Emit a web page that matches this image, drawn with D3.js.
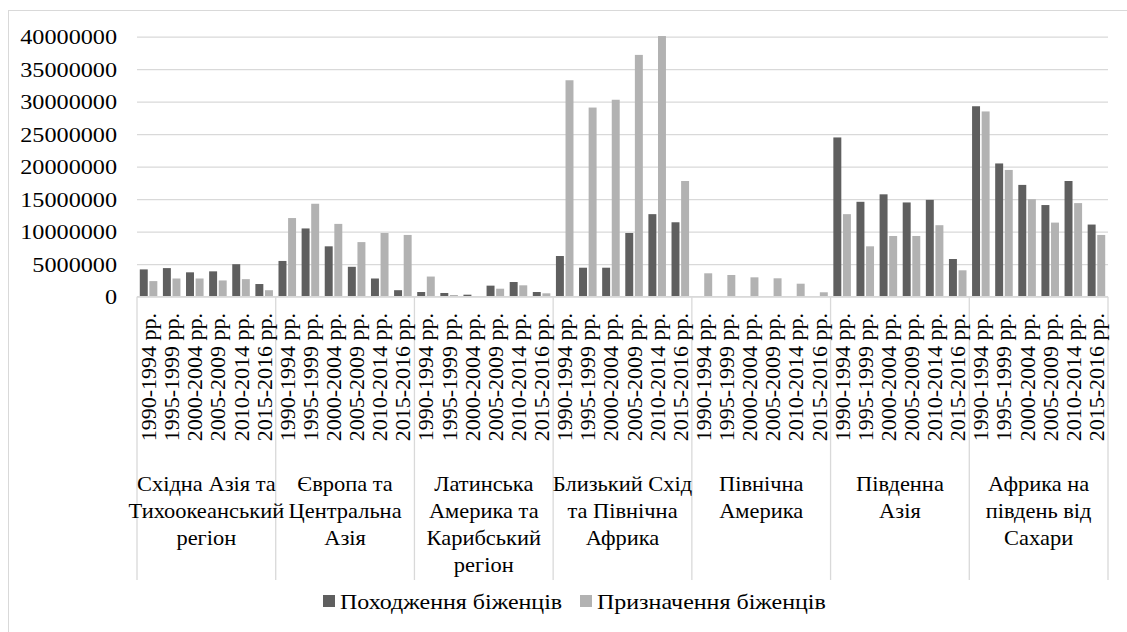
<!DOCTYPE html>
<html>
<head>
<meta charset="utf-8">
<script src="https://cdn.jsdelivr.net/npm/d3@7"></script>
<style>
  html, body { margin: 0; padding: 0; background: #fff; }
  svg { display: block; }
</style>
</head>
<body>
<svg id="chart" width="1127" height="632"></svg>
<script>
// ---- data ----
const regions = [
  "Східна Азія та Тихоокеанський регіон",
  "Європа та Центральна Азія",
  "Латинська Америка та Карибський регіон",
  "Близький Схід та Північна Африка",
  "Північна Америка",
  "Південна Азія",
  "Африка на південь від Сахари"
];
const regionLines = [
  ["Східна Азія та", "Тихоокеанський", "регіон"],
  ["Європа та", "Центральна", "Азія"],
  ["Латинська", "Америка та", "Карибський", "регіон"],
  ["Близький Схід", "та Північна", "Африка"],
  ["Північна", "Америка"],
  ["Південна", "Азія"],
  ["Африка на", "південь від", "Сахари"]
];
const periods = ["1990-1994 рр.", "1995-1999 рр.", "2000-2004 рр.", "2005-2009 рр.", "2010-2014 рр.", "2015-2016 рр."];
const seriesNames = ["Походження біженців", "Призначення біженців"];
// origin of refugees, per region, per period
const origin = [
  4200000, 4400000, 3750000, 3900000, 5000000, 1950000,
  5500000, 10500000, 7750000, 4600000, 2800000, 1000000,
  720000, 570000, 310000, 1700000, 2260000, 720000,
  6260000, 4460000, 4460000, 9800000, 12700000, 11450000,
  0, 0, 0, 0, 0, 0,
  24500000, 14600000, 15750000, 14500000, 14900000, 5800000,
  29300000, 20500000, 17200000, 14100000, 17800000, 11100000
];
// destination of refugees, per region, per period
const destination = [
  2400000, 2800000, 2800000, 2500000, 2700000, 1000000,
  12100000, 14300000, 11200000, 8400000, 9800000, 9500000,
  3100000, 260000, 100000, 1230000, 1750000, 520000,
  33300000, 29100000, 30300000, 37200000, 40100000, 17800000,
  3600000, 3340000, 2980000, 2830000, 2000000, 680000,
  12700000, 7750000, 9340000, 9340000, 11000000, 4060000,
  28500000, 19500000, 15000000, 11400000, 14400000, 9500000
];
const yTicks = [0, 5000000, 10000000, 15000000, 20000000, 25000000, 30000000, 35000000, 40000000];

// ---- layout ----
const FONT = '"Liberation Serif"';
const colors = ["#5f5f5f", "#b2b2b2"];
const gridColor = "#d9d9d9";
const fontSize = 22;
const plotLeft = 137, plotRight = 1108, plotTop = 36.7, plotBottom = 296.7;
const labelBottom = 580;

const svg = d3.select("#chart");
function styleText(sel) {
  return sel.style("font-family", FONT).style("font-size", fontSize + "px").style("fill", "#000");
}

// frame
svg.append("rect")
  .attr("x", 8.5).attr("y", 10.5)
  .attr("width", 1140).attr("height", 640)
  .attr("fill", "none").attr("stroke", gridColor).attr("stroke-width", 1);

const x0 = d3.scaleBand().domain(regions).range([plotLeft, plotRight]).padding(0);
const x1 = d3.scaleBand().domain(periods).range([0, x0.bandwidth()]).padding(0);
const xs = d3.scaleBand().domain(seriesNames).range([0, x1.bandwidth()]).paddingInner(0.17).paddingOuter(0.29);
const y = d3.scaleLinear().domain([0, 40000000]).range([plotBottom, plotTop]);

// y axis with gridlines
const yAxis = d3.axisLeft(y).tickValues(yTicks).tickFormat(d3.format("d"))
  .tickSize(-(plotRight - plotLeft)).tickPadding(20);
const gy = svg.append("g").attr("transform", `translate(${plotLeft},0)`).call(yAxis);
gy.select(".domain").remove();
gy.selectAll(".tick line").attr("stroke", gridColor).attr("stroke-width", 1.3);
styleText(gy.selectAll(".tick text"))
  .attr("x", 0)
  .attr("transform", "translate(-20,0) scale(1.1,1)");

// bars
const rows = [];
regions.forEach((r, i) => {
  periods.forEach((p, j) => {
    const k = i * periods.length + j;
    rows.push({ region: r, period: p, series: seriesNames[0], value: origin[k], c: 0 });
    rows.push({ region: r, period: p, series: seriesNames[1], value: destination[k], c: 1 });
  });
});
svg.append("g").selectAll("rect").data(rows).join("rect")
  .attr("x", d => x0(d.region) + x1(d.period) + xs(d.series))
  .attr("width", xs.bandwidth())
  .attr("y", d => y(d.value))
  .attr("height", d => y(0) - y(d.value))
  .attr("fill", d => colors[d.c]);

// x axis line
svg.append("line")
  .attr("x1", plotLeft).attr("x2", plotRight)
  .attr("y1", plotBottom).attr("y2", plotBottom)
  .attr("stroke", gridColor).attr("stroke-width", 1.3);

// group separators
const bounds = regions.map(r => x0(r)).concat([plotRight]);
svg.append("g").selectAll("line").data(bounds).join("line")
  .attr("x1", d => d).attr("x2", d => d)
  .attr("y1", plotBottom).attr("y2", labelBottom)
  .attr("stroke", gridColor).attr("stroke-width", 1.3);

// period labels (rotated)
const periodRows = [];
regions.forEach(r => periods.forEach(p => periodRows.push({ region: r, period: p })));
styleText(svg.append("g").selectAll("text").data(periodRows).join("text"))
  .attr("transform", d => {
    const cx = x0(d.region) + x1(d.period) + x1.bandwidth() / 2;
    return `translate(${cx + 7.5},313) rotate(-90)`;
  })
  .attr("text-anchor", "end")
  .text(d => d.period);

// region labels
const gl = styleText(svg.append("g").selectAll("text").data(regions).join("text"))
  .attr("transform", d => `translate(${x0(d) + x0.bandwidth() / 2},491) scale(1.02,1)`)
  .attr("text-anchor", "middle");
gl.selectAll("tspan").data((d, i) => regionLines[i])
  .join("tspan")
  .attr("x", 0)
  .attr("dy", (d, i) => i === 0 ? 0 : 27)
  .text(d => d);

// legend
const legendX = [323, 580];
const lg = svg.append("g").selectAll("g").data(seriesNames).join("g")
  .attr("transform", (d, i) => `translate(${legendX[i]},0)`);
lg.append("rect").attr("x", 0).attr("y", 595).attr("width", 12).attr("height", 12)
  .attr("fill", (d, i) => colors[i]);
styleText(lg.append("text")).attr("transform", "translate(17,609) scale(1.09,1)").text(d => d);
</script>
</body>
</html>
